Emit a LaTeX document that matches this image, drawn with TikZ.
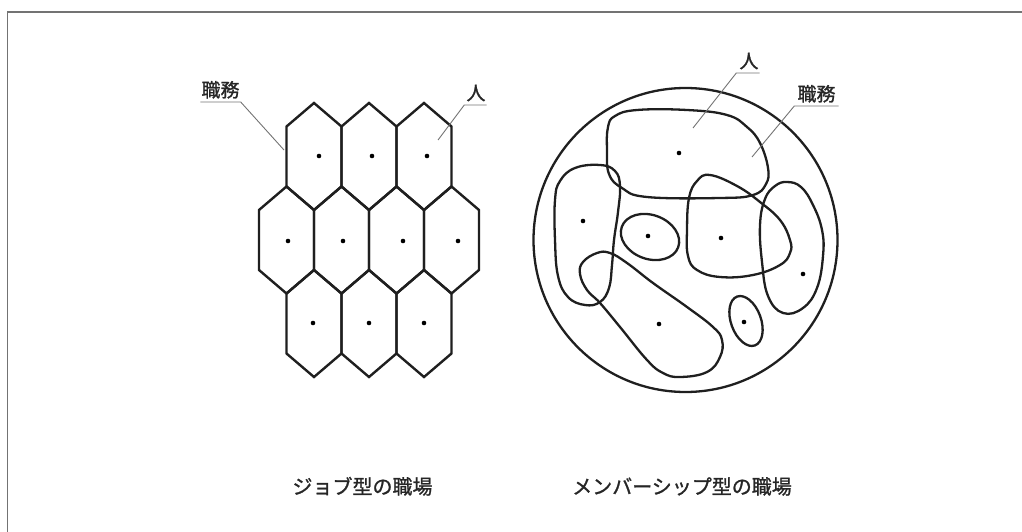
\documentclass[tikz,border=0pt]{standalone}
\usepackage{fontspec}
\setmainfont{Noto Sans CJK JP}
\newfontfamily\jpbold{Noto Sans CJK JP}[FakeBold=1.2]
\begin{document}
\begin{tikzpicture}[x=1pt,y=-1pt,
  frameline/.style={line width=1.6pt, draw=black!55},
  hexline/.style={line width=2.4pt, draw=black!88, line join=miter},
  blob/.style={line width=2.3pt, draw=black!88},
  leader/.style={line width=0.9pt, draw=black!55},
  lbl/.style={inner sep=0pt, font=\jpbold\fontsize{19}{22}\selectfont, text=black!85, anchor=base},
  captext/.style={inner sep=0pt, font=\jpbold\fontsize{20}{24}\selectfont, text=black!85, anchor=base},
  dotm/.style={fill=black}]
\useasboundingbox (0,0) rectangle (1022,532);
% frame (top and left edges)
\draw[frameline] (1022,12) -- (7.5,12) -- (7.5,532);

% ---------- job-type workplace: hexagons ----------
\foreach \cx in {314,369,424}
  \draw[hexline] (\cx,103) -- ++(27.5,23.5) -- ++(0,60) -- ++(-27.5,23.5) -- ++(-27.5,-23.5) -- ++(0,-60) -- cycle;
\foreach \cx in {286.5,341.5,396.5,451.5}
  \draw[hexline] (\cx,186.5) -- ++(27.5,23.5) -- ++(0,60) -- ++(-27.5,23.5) -- ++(-27.5,-23.5) -- ++(0,-60) -- cycle;
\foreach \cx in {314,369,424}
  \draw[hexline] (\cx,270) -- ++(27.5,23.5) -- ++(0,60) -- ++(-27.5,23.5) -- ++(-27.5,-23.5) -- ++(0,-60) -- cycle;
\foreach \p in {(319,156),(372,156),(427,156),(288,241),(343,241),(403,241),(458,241),(313,323),(369,323),(424,323)}
  \fill[dotm] \p circle (2.3pt);

% labels left
\node[lbl] (jobL) at (220.5,97) {職務};
\coordinate (jobLend) at (284,150);
\draw[leader] ([xshift=-1pt,yshift=-5pt]jobL.base west) -- ([xshift=1pt,yshift=-5pt]jobL.base east) -- (jobLend);
\node[lbl] (perL) at (476,100) {人};
\coordinate (perLend) at (438,140);
\draw[leader] ([xshift=1pt,yshift=-5pt]perL.base east) -- ([xshift=-2pt,yshift=-5pt]perL.base west) -- (perLend);

% ---------- membership-type workplace ----------
\draw[blob] (685.5,240) circle (152pt);
% A (top large)
\draw[blob] plot[smooth cycle, tension=0.7] coordinates {(608,127) (615,116) (637,110) (687,110) (727,115) (747,127) (760,143) (768,168) (766,184) (753,195) (720,198) (647,197) (622,188) (609,174) (607,150)};
% B (left)
\draw[blob] plot[smooth cycle, tension=0.7] coordinates {(575,168) (600,165) (615,171) (620,186) (618,212) (614,240) (612,265) (609,288) (600,302) (585,305) (568,297) (558,276) (555,240) (555,200) (560,181)};
% C (small oval)
\draw[blob, rotate around={-20:(650,237)}] (650,237) ellipse [x radius=30pt, y radius=22pt];
% D (center right)
\draw[blob] plot[smooth cycle, tension=0.7] coordinates {(710,175) (737,186) (760,202) (780,220) (790,240) (790,253) (780,265) (753,275) (720,277) (697,270) (688,256) (687,230) (689,198) (697,181)};
% E (right)
\draw[blob] plot[smooth cycle, tension=0.7] coordinates {(787,182) (801,187) (813,205) (822,230) (823,256) (817,288) (803,308) (783,313) (768,296) (762,262) (760,225) (765,199) (775,186)};
% F (bottom elongated)
\draw[blob] plot[smooth cycle, tension=0.7] coordinates {(597,253) (583,262) (580,274) (587,290) (600,303) (620,327) (647,360) (663,373) (680,377) (707,372) (720,357) (722,340) (713,327) (687,307) (653,283) (627,263) (610,253)};
% G (small oval bottom right)
\draw[blob, rotate around={20:(746,321)}] (746,321) ellipse [x radius=15pt, y radius=26pt];
\foreach \p in {(679,153),(583,221),(648,236),(721,238),(803,274),(659,324),(744,322)}
  \fill[dotm] \p circle (2.3pt);

% labels right
\node[lbl] (perR) at (749,68) {人};
\coordinate (perRend) at (693,128);
\draw[leader] ([xshift=1pt,yshift=-5pt]perR.base east) -- ([xshift=-3pt,yshift=-5pt]perR.base west) -- (perRend);
\node[lbl] (jobR) at (816.5,101) {職務};
\coordinate (jobRend) at (752,157);
\draw[leader] ([xshift=3pt,yshift=-5pt]jobR.base east) -- ([xshift=-3pt,yshift=-5pt]jobR.base west) -- (jobRend);

% captions
\node[captext] (capJ) at (362.5,494) {ジョブ型の職場};
\node[captext] (capM) at (682,494) {メンバーシップ型の職場};
\end{tikzpicture}
\end{document}
